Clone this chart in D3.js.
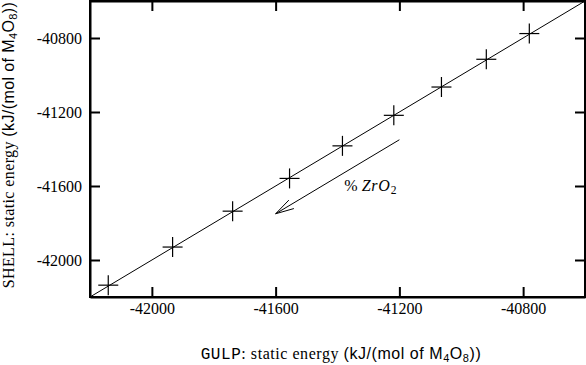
<!DOCTYPE html>
<html><head><meta charset="utf-8">
<script src="https://cdn.jsdelivr.net/npm/d3@7"></script>
<style>
html,body{margin:0;padding:0;background:#fff;}
svg{display:block;}
.serif{font-family:"Liberation Serif","Times New Roman","DejaVu Serif",serif;}
.sans{font-family:"Liberation Sans",Arial,"DejaVu Sans",sans-serif;}
.mono{font-family:"Liberation Mono","Courier New","DejaVu Sans Mono",monospace;}
</style></head>
<body>
<svg id="chart" width="586" height="365"></svg>
<script>
const gulpEnergy  = [-42141, -41933, -41739, -41555, -41384, -41218, -41064, -40919, -40780];
const shellEnergy = [-42136, -41930, -41736, -41559, -41383, -41218, -41065, -40915, -40776];
const xTicks = [-42000, -41600, -41200, -40800];
const yTicks = [-42000, -41600, -41200, -40800];
const domainMin = -42200, domainMax = -40600;
const arrowFrom = [-41200, -41350];
const arrowTo = [-41600, -41750];
const labelPos = [-41378, -41627];

const svg = d3.select("#chart");
const L = 90, R = 585, T = 1, B = 297;
const x = d3.scaleLinear().domain([domainMin, domainMax]).range([L, R]);
const y = d3.scaleLinear().domain([domainMin, domainMax]).range([B, T]);

svg.append("defs").append("clipPath").attr("id","clip")
  .append("rect").attr("x",L).attr("y",T).attr("width",R-L).attr("height",B-T);

svg.append("line").attr("clip-path","url(#clip)")
  .attr("x1", x(domainMin)).attr("y1", y(domainMin))
  .attr("x2", x(domainMax)).attr("y2", y(domainMax))
  .attr("stroke","#000").attr("stroke-width",1);

const pts = gulpEnergy.map((g,i)=>[g, shellEnergy[i]]);
const cs = 10;
const g = svg.append("g");
pts.forEach(p=>{
  const px = x(p[0]), py = y(p[1]);
  g.append("line").attr("x1",px-cs).attr("x2",px+cs).attr("y1",py).attr("y2",py).attr("stroke","#000").attr("stroke-width",1.2);
  g.append("line").attr("x1",px).attr("x2",px).attr("y1",py-cs).attr("y2",py+cs).attr("stroke","#000").attr("stroke-width",1.2);
});

function styleAxis(sel){
  sel.attr("font-family",null).attr("font-size",null);
  sel.selectAll("path.domain").attr("stroke","#000").attr("stroke-width",2);
  sel.selectAll(".tick line").attr("stroke","#000").attr("stroke-width",2);
  sel.selectAll(".tick text").attr("class","serif").style("font-size","16px").attr("fill","#000");
}
const fmt = d => String(d);
svg.append("g").attr("transform",`translate(0,${B})`)
  .call(d3.axisBottom(x).tickValues(xTicks).tickSizeInner(-10).tickSizeOuter(0).tickPadding(6).tickFormat(fmt))
  .call(styleAxis);
svg.append("g").attr("transform",`translate(0,${T})`)
  .call(d3.axisTop(x).tickValues(xTicks).tickSizeInner(-10).tickSizeOuter(0).tickFormat(""))
  .call(styleAxis);
svg.append("g").attr("transform",`translate(${L},0)`)
  .call(d3.axisLeft(y).tickValues(yTicks).tickSizeInner(-10).tickSizeOuter(0).tickPadding(8).tickFormat(fmt))
  .call(styleAxis);
svg.append("g").attr("transform",`translate(${R},0)`)
  .call(d3.axisRight(y).tickValues(yTicks).tickSizeInner(-10).tickSizeOuter(0).tickFormat(""))
  .call(styleAxis);

svg.append("rect").attr("x",L).attr("y",T).attr("width",R-L).attr("height",B-T)
  .attr("fill","none").attr("stroke","#000").attr("stroke-width",2);

const ax1 = x(arrowFrom[0]), ay1 = y(arrowFrom[1]);
const ax2 = x(arrowTo[0]), ay2 = y(arrowTo[1]);
svg.append("line").attr("x1",ax1).attr("y1",ay1).attr("x2",ax2).attr("y2",ay2).attr("stroke","#000").attr("stroke-width",1);
const ang = Math.atan2(ay1-ay2, ax1-ax2);
const hl = 19, spread = 15*Math.PI/180;
[ang-spread, ang+spread].forEach(a=>{
  svg.append("line").attr("x1",ax2).attr("y1",ay2)
    .attr("x2",ax2+hl*Math.cos(a)).attr("y2",ay2+hl*Math.sin(a))
    .attr("stroke","#000").attr("stroke-width",1);
});

const lt = svg.append("text").attr("class","serif").attr("x",x(labelPos[0])).attr("y",y(labelPos[1]))
  .style("font-size","16px");
lt.append("tspan").text("% ");
lt.append("tspan").style("font-style","italic").style("letter-spacing","0.8px").text("ZrO");
lt.append("tspan").style("font-size","11.5px").attr("dy",3).text("2");

function addLabel(sel, first, firstClass){
  sel.append("tspan").attr("class",firstClass).text(first);
  sel.append("tspan").attr("class","serif").text(": static energy ");
  sel.append("tspan").attr("class","sans").text("(kJ/(mol of M");
  sel.append("tspan").attr("class","sans").style("font-size","11px").attr("dy",2.5).text("4");
  sel.append("tspan").attr("class","sans").attr("dy",-2.5).text("O");
  sel.append("tspan").attr("class","sans").style("font-size","11px").attr("dy",2.5).text("8");
  sel.append("tspan").attr("class","sans").attr("dy",-2.5).text("))");
}
const xl = svg.append("text").attr("class","serif").attr("x",341).attr("y",359).attr("text-anchor","middle")
  .style("font-size","16px").style("letter-spacing","0.55px");
addLabel(xl, "GULP", "mono");
const yl = svg.append("text").attr("class","serif").attr("transform","translate(14,145) rotate(-90)").attr("text-anchor","middle")
  .style("font-size","16px").style("letter-spacing","0.4px");
addLabel(yl, "SHELL", "serif");
</script>
</body></html>
